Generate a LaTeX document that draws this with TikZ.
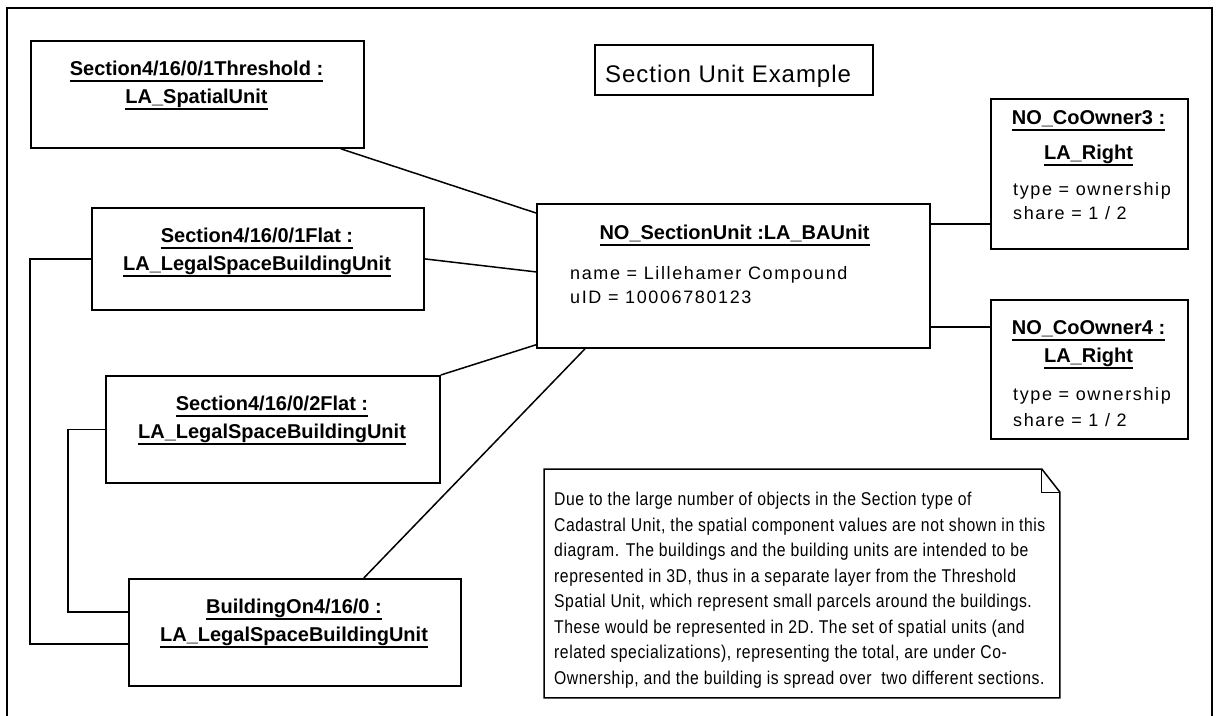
\documentclass[tikz,border=0pt]{standalone}
\usepackage{fontspec}
\setmainfont{Liberation Sans}
\usepackage{tikz}
\usetikzlibrary{positioning,calc}
\newcommand{\hdrfont}{\fontsize{20}{28}\selectfont\bfseries}
\newcommand{\attrfont}{\fontsize{18}{25}\selectfont\addfontfeature{LetterSpace=9}}
\newcommand{\titlefont}{\fontsize{24}{28}\selectfont\addfontfeature{LetterSpace=4}}
\newcommand{\notefont}{\fontsize{18.5}{25.5}\selectfont\addfontfeatures{FakeStretch=0.85,LetterSpace=3}}
\newsavebox{\ulbox}
\newcommand{\ulhdr}[1]{\sbox{\ulbox}{#1}\rlap{\rule[-7pt]{\wd\ulbox}{1.7pt}}\usebox{\ulbox}}
\tikzset{
  objbox/.style={draw, line width=1.8pt, inner sep=0pt, anchor=north west},
  hdr/.style={anchor=base, inner sep=0pt, font=\hdrfont},
  attr/.style={anchor=base west, inner sep=0pt, font=\attrfont},
  link/.style={line width=1.5pt},
  frame/.style={line width=1.8pt},
}

\begin{document}
\begin{tikzpicture}[x=1pt, y=-1pt]
\useasboundingbox (0,0) rectangle (1218,715);
\draw[frame] (7,725) -- (7,8) -- (1212,8) -- (1212,725);

% title
\node[objbox, minimum width=278pt, minimum height=50pt] (title) at (594,44) {};
\node[anchor=base west, inner sep=0pt, font=\titlefont] (titletxt) at (605,82) {Section Unit Example};

% spatial units on the left
\node[objbox, minimum width=333pt, minimum height=107pt] (thr) at (30,40) {};
\node[hdr] (thrA) at (196.5,75) {\ulhdr{Section4/16/0/1Threshold :}};
\node[hdr] (thrB) at (196.5,103) {\ulhdr{LA\_SpatialUnit}};

\node[objbox, minimum width=332pt, minimum height=102pt] (flat1) at (91,207) {};
\node[hdr] (flat1A) at (257,242) {\ulhdr{Section4/16/0/1Flat :}};
\node[hdr] (flat1B) at (257,270) {\ulhdr{LA\_LegalSpaceBuildingUnit}};

\node[objbox, minimum width=334pt, minimum height=107pt] (flat2) at (105,375) {};
\node[hdr] (flat2A) at (272,410) {\ulhdr{Section4/16/0/2Flat :}};
\node[hdr] (flat2B) at (272,438) {\ulhdr{LA\_LegalSpaceBuildingUnit}};

\node[objbox, minimum width=332pt, minimum height=107pt] (bldg) at (128,578) {};
\node[hdr] (bldgA) at (294,613) {\ulhdr{BuildingOn4/16/0 :}};
\node[hdr] (bldgB) at (294,641) {\ulhdr{LA\_LegalSpaceBuildingUnit}};

% basic administrative unit
\node[objbox, minimum width=393pt, minimum height=144pt] (sec) at (536,203) {};
\node[hdr] (secA) at (734.5,239) {\ulhdr{NO\_SectionUnit :LA\_BAUnit}};
\node[attr] (secB) at (570,279) {name = Lillehamer Compound};
\node[attr] (secC) at (570,303) {uID = 10006780123};

% rights
\node[objbox, minimum width=197pt, minimum height=150pt] (co3) at (990,98) {};
\node[hdr] (co3A) at (1088.5,124) {\ulhdr{NO\_CoOwner3 :}};
\node[hdr] (co3B) at (1088.5,159) {\ulhdr{LA\_Right}};
\node[attr] (co3C) at (1013,195) {type = ownership};
\node[attr] (co3D) at (1013,219) {share = 1 / 2};

\node[objbox, minimum width=197pt, minimum height=139pt] (co4) at (990,299) {};
\node[hdr] (co4A) at (1088.5,334) {\ulhdr{NO\_CoOwner4 :}};
\node[hdr] (co4B) at (1088.5,362) {\ulhdr{LA\_Right}};
\node[attr] (co4C) at (1013,400) {type = ownership};
\node[attr] (co4D) at (1013,426) {share = 1 / 2};

% note
\node[objbox, draw=none, minimum width=514pt, minimum height=227pt] (note) at (544,469) {};
\draw[line width=1.5pt] (note.north west) -- ([xshift=-18pt]note.north east)
  -- ([yshift=-23pt]note.north east) -- (note.south east) -- (note.south west) -- cycle;
\draw[line width=1pt] ([xshift=-18pt]note.north east) |- ([yshift=-23pt]note.north east);
\node[anchor=north west, inner sep=0pt, align=left, font=\notefont] (notetxt) at (554,492)
  {Due to the large number of objects in the Section type of\\
   Cadastral Unit, the spatial component values are not shown in this\\
   diagram. The buildings and the building units are intended to be\\
   represented in 3D, thus in a separate layer from the Threshold\\
   Spatial Unit, which represent small parcels around the buildings.\\
   These would be represented in 2D. The set of spatial units (and\\
   related specializations), representing the total, are under Co-\\
   Ownership, and the building is spread over\ \ two different sections.};

% links
\draw[link] ([xshift=-24pt]thr.south east) -- ([yshift=-10pt]sec.north west);
\draw[link] (flat1.east) -- ([yshift=4pt]sec.west);
\draw[link] (flat2.north east) -- ([yshift=4pt]sec.south west);
\draw[link] ([xshift=-98pt]bldg.north east) -- ([xshift=49pt]sec.south west);
\coordinate (s3) at ([yshift=-21pt]sec.north east);
\coordinate (s4) at ([yshift=22pt]sec.south east);
\draw[link] (s3) -- (s3 -| co3.west);
\draw[link] (s4) -- (s4 -| co4.west);
\draw[link] (flat1.west) -- ++(-61,0) |- ([yshift=-11.5pt]bldg.west);
\draw[link] (flat2.west) -- ++(-37,0) |- ([yshift=20.5pt]bldg.west);
\end{tikzpicture}
\end{document}
